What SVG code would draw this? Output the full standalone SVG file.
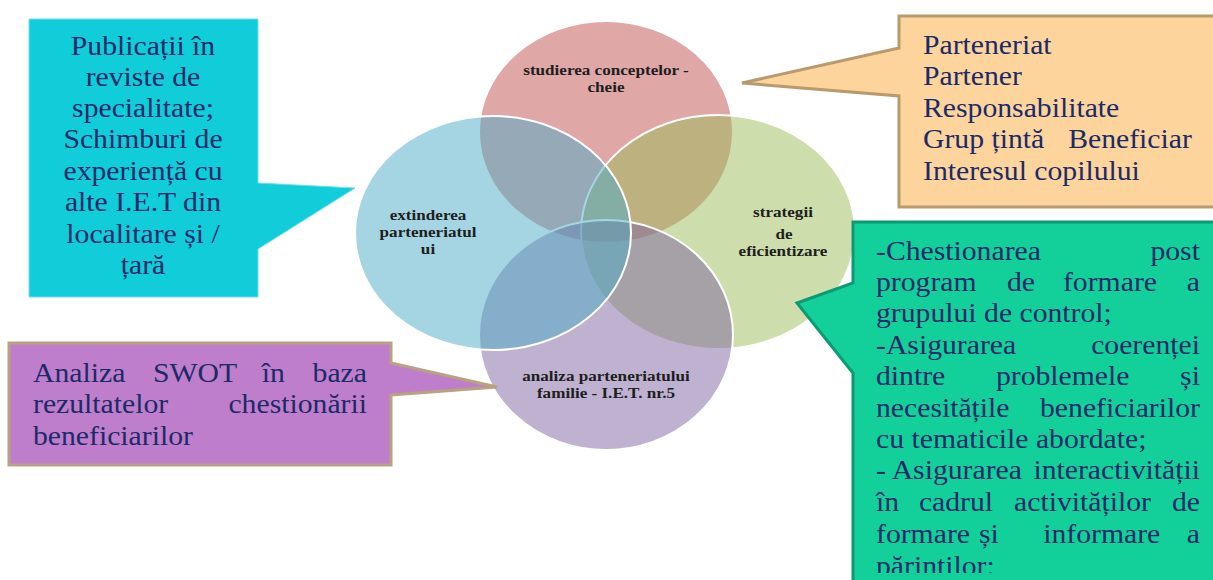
<svg xmlns="http://www.w3.org/2000/svg" width="1213" height="580" viewBox="0 0 1213 580">
<style>
.ell{stroke:#ffffff;stroke-width:2;fill-opacity:0.5}
.lbl{font-family:"Liberation Serif","Times New Roman",serif;font-weight:bold;font-size:15px;fill:#1e1e1e;text-anchor:middle}
.cal{font-family:"Liberation Serif","Times New Roman",serif;font-size:27px;fill:#1b2a68}
.mid{text-anchor:middle}
.end{text-anchor:end}
</style>
<defs>
<clipPath id="gclip"><rect x="850" y="220" width="370" height="353"/></clipPath>
</defs>
<g id="ellipses">
<g id="n-studierea">
<ellipse class="ell" cx="606" cy="132" rx="127" ry="111" fill="#c0504d"/>
</g>
<g id="n-strategii">
<ellipse class="ell" cx="718" cy="232" rx="137" ry="117" fill="#9bbb59"/>
</g>
<g id="n-analiza">
<ellipse class="ell" cx="606" cy="335" rx="127" ry="115" fill="#8064a2"/>
</g>
<g id="n-extinderea">
<ellipse class="ell" cx="493" cy="233" rx="138" ry="117" fill="#4bacc6"/>
</g>
</g>
<g id="ellipse-labels">
<g transform="translate(606,0) scale(1.14,1)">
<text class="lbl" x="0" y="75">studierea conceptelor -</text>
<text class="lbl" x="0" y="92">cheie</text>
</g>
<g transform="translate(428,0) scale(1.14,1)">
<text class="lbl" x="0" y="220">extinderea</text>
<text class="lbl" x="0" y="237">parteneriatul</text>
<text class="lbl" x="0" y="254">ui</text>
</g>
<g transform="translate(783,0) scale(1.14,1)">
<text class="lbl" x="0" y="217">strategii</text>
<text class="lbl" x="1" y="239">de</text>
<text class="lbl" x="0" y="256">eficientizare</text>
</g>
<g transform="translate(606,0) scale(1.14,1)">
<text class="lbl" x="0" y="381">analiza parteneriatului</text>
<text class="lbl" x="0" y="398">familie - I.E.T. nr.5</text>
</g>
</g>
<g id="connectors"></g>
<g id="callout-cyan">
<path d="M29,19 H258 V183 L355,188 L258,249 V297 H29 Z" fill="#10cdd9" stroke="#6fe0e8" stroke-width="1"/>
<g transform="translate(143,0) scale(1.1,1)">
<text class="cal mid" x="0" y="55">Publicații în</text>
<text class="cal mid" x="0" y="86">reviste de</text>
<text class="cal mid" x="0" y="117">specialitate;</text>
<text class="cal mid" x="0" y="148">Schimburi de</text>
<text class="cal mid" x="0" y="180">experiență cu</text>
<text class="cal mid" x="0" y="211">alte I.E.T din</text>
<text class="cal mid" x="0" y="243">localitare și /</text>
<text class="cal mid" x="0" y="274">țară</text>
</g>
</g>
<g id="callout-orange">
<path d="M899,16 H1218 V207 H899 V96 L742,83 L899,48 Z" fill="#fdd49b" stroke="#b89a6c" stroke-width="3"/>
<g transform="translate(923,0) scale(1.1,1)">
<text class="cal" x="0" y="54">Parteneriat</text>
<text class="cal" x="0" y="85">Partener</text>
<text class="cal" x="0" y="117">Responsabilitate</text>
<text class="cal" x="0" y="148">Grup țintă</text>
<text class="cal" x="132" y="148">Beneficiar</text>
<text class="cal" x="0" y="180">Interesul copilului</text>
</g>
</g>
<g id="callout-green">
<path d="M853,222 H1218 V585 H853 V373 L797,303 L853,283 Z" fill="#13d09b" stroke="#0c9a72" stroke-width="3"/>
<g clip-path="url(#gclip)">
<g transform="translate(876,0) scale(1.1,1)">
<text class="cal" x="0" y="260">-Chestionarea</text>
<text class="cal end" x="294.5" y="260">post</text>
<text class="cal" x="0" y="291">program</text>
<text class="cal" x="119" y="291">de</text>
<text class="cal" x="170" y="291">formare</text>
<text class="cal end" x="294.5" y="291">a</text>
<text class="cal" x="0" y="322">grupului de control;</text>
<text class="cal" x="0" y="354">-Asigurarea</text>
<text class="cal end" x="294.5" y="354">coerenței</text>
<text class="cal" x="0" y="385">dintre</text>
<text class="cal" x="109" y="385">problemele</text>
<text class="cal end" x="294.5" y="385">și</text>
<text class="cal" x="0" y="417">necesitățile</text>
<text class="cal end" x="294.5" y="417">beneficiarilor</text>
<text class="cal" x="0" y="448">cu tematicile abordate;</text>
<text class="cal" x="0" y="479">- Asigurarea</text>
<text class="cal end" x="294.5" y="479">interactivității</text>
<text class="cal" x="0" y="511">în</text>
<text class="cal" x="39" y="511">cadrul</text>
<text class="cal" x="125.5" y="511">activităților</text>
<text class="cal end" x="294.5" y="511">de</text>
<text class="cal" x="0" y="543">formare</text>
<text class="cal" x="93.6" y="543">și</text>
<text class="cal" x="152" y="543">informare</text>
<text class="cal end" x="294.5" y="543">a</text>
<text class="cal" x="0" y="575">părinților;</text>
</g>
</g>
</g>
<g id="callout-purple">
<path d="M9,343 H391 V363 L497,387 L391,395 V465 H9 Z" fill="#bf7ecb" stroke="#b9a27f" stroke-width="3"/>
<g transform="translate(33,0) scale(1.1,1)">
<text class="cal" x="0" y="382">Analiza</text>
<text class="cal" x="109" y="382">SWOT</text>
<text class="cal" x="208" y="382">în</text>
<text class="cal end" x="303.6" y="382">baza</text>
<text class="cal" x="0" y="413">rezultatelor</text>
<text class="cal end" x="303.6" y="413">chestionării</text>
<text class="cal" x="0" y="445">beneficiarilor</text>
</g>
</g>
</svg>
